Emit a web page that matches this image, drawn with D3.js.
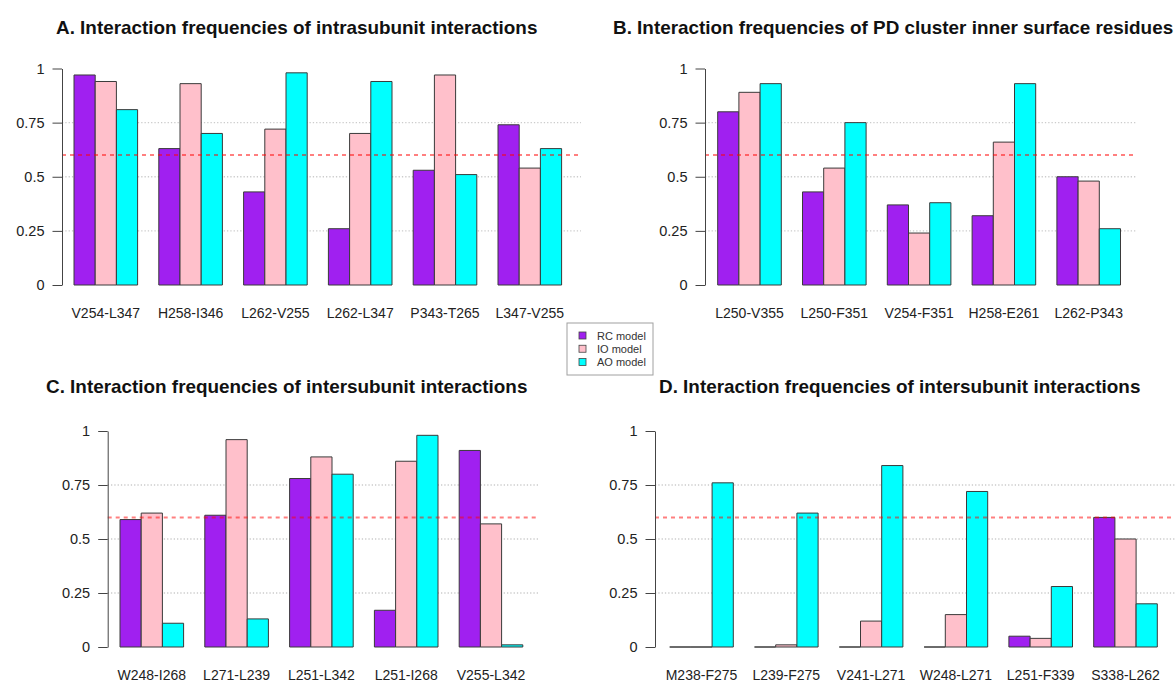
<!DOCTYPE html>
<html>
<head>
<meta charset="utf-8">
<script src="https://cdn.jsdelivr.net/npm/d3@7"></script>
<style>
  html, body { margin: 0; padding: 0; background: #ffffff; }
  svg { display: block; font-family: "Liberation Sans", Arial, Helvetica, sans-serif; }
</style>
</head>
<body>
<svg id="chart" width="1175" height="682"></svg>
<script>
// ---------------- data ----------------
const models = ["RC model", "IO model", "AO model"];
const modelColors = ["#A020F0", "#FFC0CB", "#00FFFF"];

const titleA = "A. Interaction frequencies of intrasubunit interactions";
const catsA = ["V254-L347", "H258-I346", "L262-V255", "L262-L347", "P343-T265", "L347-V255"];
const rcA = [0.97, 0.63, 0.43, 0.26, 0.53, 0.74];
const ioA = [0.94, 0.93, 0.72, 0.70, 0.97, 0.54];
const aoA = [0.81, 0.70, 0.98, 0.94, 0.51, 0.63];

const titleB = "B. Interaction frequencies of PD cluster inner surface residues";
const catsB = ["L250-V355", "L250-F351", "V254-F351", "H258-E261", "L262-P343"];
const rcB = [0.80, 0.43, 0.37, 0.32, 0.50];
const ioB = [0.89, 0.54, 0.24, 0.66, 0.48];
const aoB = [0.93, 0.75, 0.38, 0.93, 0.26];

const titleC = "C. Interaction frequencies of intersubunit interactions";
const catsC = ["W248-I268", "L271-L239", "L251-L342", "L251-I268", "V255-L342"];
const rcC = [0.59, 0.61, 0.78, 0.17, 0.91];
const ioC = [0.62, 0.96, 0.88, 0.86, 0.57];
const aoC = [0.11, 0.13, 0.80, 0.98, 0.01];

const titleD = "D. Interaction frequencies of intersubunit interactions";
const catsD = ["M238-F275", "L239-F275", "V241-L271", "W248-L271", "L251-F339", "S338-L262"];
const rcD = [0, 0, 0, 0, 0.05, 0.60];
const ioD = [0, 0.01, 0.12, 0.15, 0.04, 0.50];
const aoD = [0.76, 0.62, 0.84, 0.72, 0.28, 0.20];

const yTickValues = [0, 0.25, 0.5, 0.75, 1];
const yTickLabels = ["0", "0.25", "0.5", "0.75", "1"];
const gridValues = [0.25, 0.5, 0.75];
const threshold = 0.6;

// ---------------- layout ----------------
const BAR = 21.2, STEP = 84.8;
const panels = [
  { title: titleA, cats: catsA, series: [rcA, ioA, aoA], axisX: 62,    firstBar: 74,    plotRight: 581,  y0: 285, y1: 68.5, titleX: 56,  titleY: 27,  labelY: 313 },
  { title: titleB, cats: catsB, series: [rcB, ioB, aoB], axisX: 705,   firstBar: 717.7, plotRight: 1137, y0: 285, y1: 68.5, titleX: 613, titleY: 27,  labelY: 313 },
  { title: titleC, cats: catsC, series: [rcC, ioC, aoC], axisX: 107.7, firstBar: 120,   plotRight: 538,  y0: 647, y1: 431,  titleX: 46,  titleY: 386, labelY: 675 },
  { title: titleD, cats: catsD, series: [rcD, ioD, aoD], axisX: 655,   firstBar: 669.7, plotRight: 1177, y0: 647, y1: 431,  titleX: 659, titleY: 386, labelY: 675 }
];

const svg = d3.select("#chart");

// determine title font size so that title A spans ~482px
const probe = svg.append("text").attr("font-weight", "bold").attr("font-size", 16).text(titleA);
const probeW = probe.node().getComputedTextLength();
probe.remove();
const titleSize = 16 * 482 / probeW;

panels.forEach(p => {
  const g = svg.append("g");
  const y = d3.scaleLinear().domain([0, 1]).range([p.y0, p.y1]);
  const n = p.cats.length;
  const x = d3.scaleBand().domain(p.cats)
    .range([p.firstBar, p.firstBar + n * STEP - BAR])
    .paddingInner(BAR / STEP).paddingOuter(0);
  const xs = d3.scaleBand().domain(models).range([0, x.bandwidth()]).padding(0);

  // title
  g.append("text")
    .attr("x", p.titleX).attr("y", p.titleY)
    .attr("dominant-baseline", "central")
    .attr("font-weight", "bold").attr("font-size", titleSize)
    .attr("fill", "#111")
    .text(p.title);

  // grid
  g.selectAll("line.grid").data(gridValues).join("line")
    .attr("class", "grid")
    .attr("x1", p.axisX).attr("x2", p.plotRight)
    .attr("y1", d => y(d)).attr("y2", d => y(d))
    .attr("stroke", "#cccccc").attr("stroke-width", 1.3)
    .attr("stroke-dasharray", "1.3,2");

  // bars
  const rows = [];
  p.cats.forEach((c, i) => {
    models.forEach((m, j) => rows.push({ cat: c, model: m, j: j, v: p.series[j][i] }));
  });
  g.selectAll("path.bar").data(rows).join("path")
    .attr("class", "bar")
    .attr("d", d => {
      const x0 = x(d.cat) + xs(d.model), x1 = x0 + xs.bandwidth();
      const yb = y(0), yt = y(d.v);
      return `M${x0},${yb}V${yt}H${x1}V${yb}Z`;
    })
    .attr("fill", d => modelColors[d.j])
    .attr("stroke", "#3a3a3a").attr("stroke-width", 1);

  // threshold line
  g.append("line")
    .attr("x1", p.axisX).attr("x2", p.plotRight)
    .attr("y1", y(threshold)).attr("y2", y(threshold))
    .attr("stroke", "rgba(255,0,0,0.5)").attr("stroke-width", 2)
    .attr("stroke-dasharray", "4,4");

  // y axis
  const ax = g.append("g").attr("transform", `translate(${p.axisX},0)`)
    .call(d3.axisLeft(y).tickValues(yTickValues)
      .tickFormat((d, i) => yTickLabels[i])
      .tickSize(9.5).tickSizeOuter(0).tickPadding(8));
  ax.select(".domain").attr("stroke", "#444");
  ax.selectAll(".tick line").attr("stroke", "#444");
  ax.selectAll(".tick text").attr("font-size", 14.5).attr("fill", "#222")
    .attr("font-family", "'Liberation Sans', Arial, sans-serif");

  // category labels
  g.selectAll("text.cat").data(p.cats).join("text")
    .attr("class", "cat")
    .attr("x", d => x(d) + x.bandwidth() / 2)
    .attr("y", p.labelY)
    .attr("text-anchor", "middle").attr("dominant-baseline", "central")
    .attr("font-size", 14).attr("fill", "#222")
    .text(d => d);
});

// legend
const lg = svg.append("g");
lg.append("rect").attr("x", 567).attr("y", 323).attr("width", 86).attr("height", 52)
  .attr("fill", "#fff").attr("stroke", "#a0a0a0").attr("stroke-width", 1);
const ly = d3.scalePoint().domain(models).range([335.5, 362]);
lg.selectAll("rect.key").data(models).join("rect")
  .attr("class", "key")
  .attr("x", 579).attr("y", d => ly(d) - 3.5).attr("width", 7).attr("height", 7)
  .attr("fill", (d, i) => modelColors[i]).attr("stroke", "#444").attr("stroke-width", 0.8);
lg.selectAll("text.key").data(models).join("text")
  .attr("class", "key")
  .attr("x", 597).attr("y", d => ly(d))
  .attr("dominant-baseline", "central")
  .attr("font-size", 11).attr("fill", "#333")
  .text(d => d);
</script>
</body>
</html>
